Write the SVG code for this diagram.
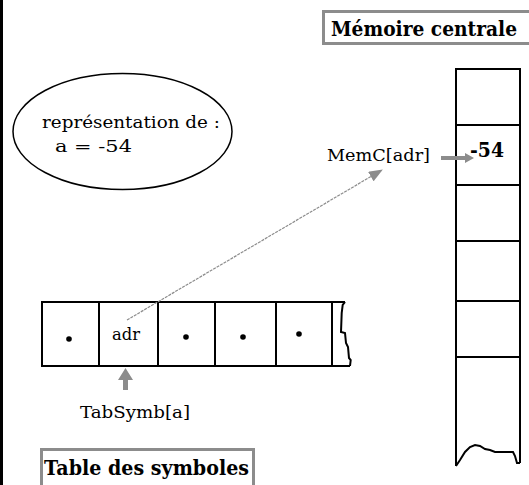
<svg xmlns="http://www.w3.org/2000/svg" width="529" height="485" viewBox="0 0 529 485">
  <style>
    .txt { font-family: 'DejaVu Serif', 'Liberation Serif', serif; font-size: 17px; fill: #000; }
    .bold { font-family: 'DejaVu Serif', 'Liberation Serif', serif; font-size: 21px; font-weight: bold; fill: #000; }
    .cell { fill: none; stroke: #000; stroke-width: 2; }
    .title { fill: #fff; stroke: #8c8c8c; stroke-width: 3; }
    .dot { fill: #000; }
    .garrow { fill: #8c8c8c; stroke: none; }
  </style>
  <defs>
    <marker id="headGray" markerUnits="userSpaceOnUse" viewBox="0 0 14 11" markerWidth="14" markerHeight="11" refX="13" refY="5.5" orient="auto">
      <path d="M0,0 L14,5.5 L0,11 Z" fill="#8c8c8c"/>
    </marker>
  </defs>
  <rect x="0" y="0" width="529" height="485" fill="#fff"/>
  <rect x="0" y="0" width="3" height="485" fill="#000"/>

  <g id="memoire-title">
    <rect class="title" x="323.5" y="11.5" width="210" height="32"/>
    <text class="bold" x="331" y="36" textLength="186" lengthAdjust="spacingAndGlyphs">Mémoire centrale</text>
  </g>

  <g id="representation">
    <ellipse cx="122.5" cy="131.5" rx="109.5" ry="58" fill="none" stroke="#000" stroke-width="1.5"/>
    <text class="txt" x="42" y="128" textLength="178" lengthAdjust="spacingAndGlyphs">représentation de :</text>
    <text class="txt" x="55" y="152" textLength="77" lengthAdjust="spacingAndGlyphs">a = -54</text>
  </g>

  <g id="memoire-column">
    <path class="cell" d="M456,466 L456,69 L520,69 L520,463"/>
    <path class="cell" d="M456,125 H520 M456,185 H520 M456,241 H520 M456,301 H520 M456,357 H520"/>
    <path class="cell" d="M456,466 L460,460 L465,452 L470,447 L475,445 L480,446 L485,449 L490,450 L495,452 L513,452 L515,456 L517,463 L520,463"/>
    <text class="bold" x="470" y="157" textLength="34" lengthAdjust="spacingAndGlyphs">-54</text>
  </g>

  <g id="memc-label">
    <text class="txt" x="327" y="161" textLength="103" lengthAdjust="spacingAndGlyphs">MemC[adr]</text>
  </g>

  <g id="table-symboles">
    <path class="cell" d="M345,302 L42,302 L42,366 L350,366"/>
    <path class="cell" d="M99,302 V366 M158,302 V366 M215,302 V366 M276,302 V366 M332,302 V366"/>
    <path class="cell" d="M345,302 L342.7,305 L341.7,313 L341,332 L345,333 L346,343 L348,347 L349,358 L350.7,360 L350,366"/>
    <circle class="dot" cx="69" cy="339" r="2.8"/>
    <circle class="dot" cx="186" cy="337" r="2.8"/>
    <circle class="dot" cx="243" cy="337" r="2.8"/>
    <circle class="dot" cx="299" cy="334" r="2.8"/>
    <text class="txt" x="112" y="340" textLength="28" lengthAdjust="spacingAndGlyphs">adr</text>
  </g>

  <g id="tabsymb-label">
    <text class="txt" x="80" y="418" textLength="110" lengthAdjust="spacingAndGlyphs">TabSymb[a]</text>
  </g>

  <g id="table-title">
    <rect class="title" x="41.5" y="449.5" width="212" height="45"/>
    <text class="bold" x="44" y="475" textLength="205" lengthAdjust="spacingAndGlyphs">Table des symboles</text>
  </g>

  <g id="connectors">
    <line x1="127" y1="320" x2="382" y2="170" stroke="#8c8c8c" stroke-width="1.2" stroke-dasharray="3 1" marker-end="url(#headGray)"/>
    <path class="garrow" d="M441,156 L465,156 L465,153 L474,158 L465,163 L465,160 L441,160 Z"/>
    <path class="garrow" d="M123,390 L123,380 L118,380 L125.5,368 L133,380 L128,380 L128,390 Z"/>
  </g>
</svg>
